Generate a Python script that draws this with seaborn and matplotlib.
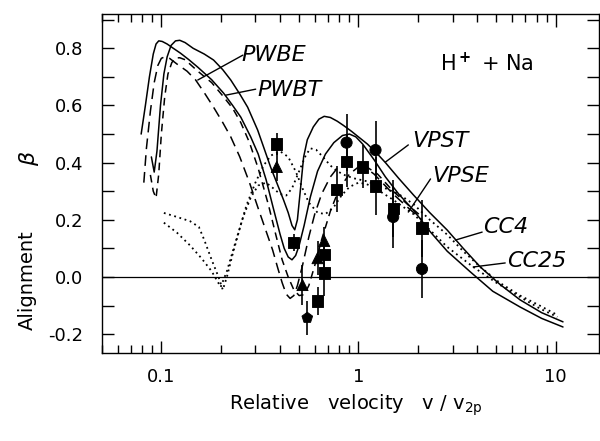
import numpy as np
import pandas as pd
import matplotlib
matplotlib.use("Agg")
import matplotlib.pyplot as plt
import seaborn as sns
from matplotlib.ticker import FixedLocator, NullFormatter, FixedFormatter

# ---- curves ----
solid_outer_x = [0.089, 0.092, 0.095, 0.099, 0.103, 0.107, 0.112, 0.118, 0.124, 0.132, 0.145, 0.165,
                 0.184, 0.205, 0.225, 0.25, 0.274, 0.308, 0.33, 0.358, 0.39, 0.417, 0.44, 0.46,
                 0.475, 0.49, 0.51, 0.527, 0.55, 0.59, 0.63, 0.67, 0.72, 0.78, 0.84, 0.92, 1.0,
                 1.11, 1.23, 1.37, 1.6, 1.9, 2.3, 2.82, 3.4, 4.15, 5.2, 6.6, 8.5, 10.9]
solid_outer_y = [0.42, 0.367, 0.44, 0.60, 0.71, 0.77, 0.81, 0.826, 0.828, 0.82, 0.80, 0.78,
                 0.759, 0.725, 0.689, 0.64, 0.594, 0.514, 0.455, 0.385, 0.32, 0.269, 0.225, 0.18,
                 0.165, 0.20, 0.32, 0.42, 0.48, 0.525, 0.552, 0.562, 0.558, 0.545, 0.53, 0.51, 0.49,
                 0.465, 0.435, 0.40, 0.345, 0.287, 0.225, 0.164, 0.10, 0.035, -0.025, -0.08, -0.125, -0.157]

solid_inner_x = [0.079, 0.083, 0.087, 0.091, 0.094, 0.097, 0.101, 0.107, 0.115, 0.125, 0.138, 0.153,
                 0.18, 0.207, 0.23, 0.253, 0.284, 0.31, 0.34, 0.37, 0.40, 0.42, 0.44, 0.46, 0.48,
                 0.50, 0.53, 0.57, 0.62, 0.68, 0.75, 0.83, 0.90, 0.97, 1.05, 1.2, 1.37, 1.6, 1.9,
                 2.3, 2.82, 3.69, 4.8, 6.6, 8.5, 10.9]
solid_inner_y = [0.50, 0.60, 0.70, 0.78, 0.815, 0.826, 0.824, 0.815, 0.80, 0.783, 0.76, 0.734,
                 0.69, 0.643, 0.60, 0.559, 0.49, 0.43, 0.34, 0.24, 0.15, 0.10, 0.07, 0.06, 0.075,
                 0.11, 0.18, 0.28, 0.37, 0.43, 0.47, 0.495, 0.50, 0.49, 0.465, 0.41, 0.35, 0.29, 0.234,
                 0.16, 0.09, 0.018, -0.05, -0.105, -0.145, -0.175]

dash_a_x = [0.0815, 0.084, 0.088, 0.092, 0.096, 0.100, 0.104, 0.110, 0.12, 0.135, 0.149, 0.165,
            0.184, 0.205, 0.225, 0.25, 0.28, 0.31, 0.34, 0.367, 0.39, 0.41, 0.43, 0.45, 0.47,
            0.49, 0.52, 0.56, 0.60, 0.65, 0.72, 0.8, 0.9, 1.0, 1.2, 1.5, 1.8, 2.1]
dash_a_y = [0.33, 0.45, 0.58, 0.68, 0.74, 0.765, 0.77, 0.765, 0.745, 0.72, 0.69, 0.645,
            0.594, 0.54, 0.49, 0.42, 0.33, 0.24, 0.16, 0.094, 0.03, -0.02, -0.06, -0.075, -0.065,
            -0.03, 0.04, 0.14, 0.22, 0.29, 0.35, 0.39, 0.405, 0.40, 0.36, 0.29, 0.24, 0.20]

dash_b_x = [0.088, 0.091, 0.094, 0.097, 0.100, 0.104, 0.108, 0.113, 0.118, 0.124, 0.132, 0.153,
            0.18, 0.207, 0.23, 0.253, 0.28, 0.31, 0.35, 0.38, 0.41, 0.44, 0.47, 0.50, 0.53,
            0.56, 0.60, 0.65, 0.72, 0.8, 0.9, 1.0, 1.1, 1.25, 1.5, 1.8, 2.1]
dash_b_y = [0.357, 0.30, 0.276, 0.36, 0.50, 0.63, 0.71, 0.75, 0.766, 0.767, 0.76, 0.72,
            0.68, 0.63, 0.59, 0.54, 0.47, 0.38, 0.25, 0.15, 0.06, 0.0, -0.045, -0.065, -0.062,
            -0.03, 0.04, 0.13, 0.23, 0.31, 0.36, 0.385, 0.385, 0.36, 0.30, 0.25, 0.21]

dot_a_x = [0.103, 0.12, 0.14, 0.155, 0.165, 0.18, 0.195, 0.205, 0.215, 0.23, 0.25, 0.27, 0.30,
           0.33, 0.36, 0.40, 0.44, 0.48, 0.52, 0.56, 0.62, 0.68, 0.75, 0.82, 0.90, 1.0, 1.1,
           1.25, 1.5, 1.9, 2.3, 2.82, 3.82, 5.0, 6.6, 8.3, 10.2]
dot_a_y = [0.224, 0.21, 0.195, 0.175, 0.13, 0.06, 0.0, -0.045, 0.0, 0.08, 0.17, 0.25, 0.33,
           0.39, 0.425, 0.44, 0.42, 0.37, 0.31, 0.26, 0.225, 0.22, 0.245, 0.285, 0.315, 0.33, 0.325,
           0.305, 0.27, 0.22, 0.165, 0.105, 0.035, -0.02, -0.07, -0.11, -0.14]

dot_b_x = [0.103, 0.12, 0.14, 0.16, 0.18, 0.20, 0.215, 0.235, 0.26, 0.285, 0.31, 0.34, 0.37,
           0.40, 0.43, 0.46, 0.50, 0.54, 0.57, 0.61, 0.66, 0.72, 0.78, 0.86, 0.95, 1.1, 1.37,
           1.6, 1.9, 2.3, 2.82, 3.4, 4.15, 5.2, 6.6, 8.3, 10.2]
dot_b_y = [0.19, 0.155, 0.11, 0.065, 0.02, -0.035, 0.02, 0.11, 0.21, 0.28, 0.32, 0.33, 0.31,
           0.29, 0.285, 0.31, 0.37, 0.425, 0.45, 0.445, 0.42, 0.39, 0.37, 0.355, 0.345, 0.335, 0.31,
           0.29, 0.255, 0.20, 0.148, 0.09, 0.035, -0.02, -0.065, -0.10, -0.133]

# ---- measured points ----
pt_v = [0.385, 0.385, 0.47, 0.52, 0.55, 0.62, 0.62, 0.67, 0.67, 0.67, 0.774, 0.87, 0.87,
        1.05, 1.22, 1.22, 1.5, 1.5, 2.1, 2.1]
pt_beta = [0.465, 0.385, 0.12, -0.028, -0.143, -0.084, 0.066, 0.126, 0.08, 0.014, 0.307, 0.47, 0.405,
           0.385, 0.444, 0.318, 0.24, 0.21, 0.171, 0.028]
pt_err = [0.04, 0.05, 0.03, 0.07, 0.06, 0.05, 0.06, 0.05, 0.06, 0.08, 0.08, 0.10, 0.09,
          0.075, 0.10, 0.10, 0.10, 0.11, 0.10, 0.10]
pt_kind = ["sq", "tri", "sq", "tri", "pent", "sq", "tri", "tri", "sq", "sq", "sq", "circ", "sq",
           "sq", "circ", "sq", "sq", "circ", "sq", "circ"]

x_major = [0.1, 1, 10]
x_major_labels = ["0.1", "1", "10"]
y_major = [-0.2, 0.0, 0.2, 0.4, 0.6, 0.8]
y_major_labels = ["-0.2", "0.0", "0.2", "0.4", "0.6", "0.8"]

sns.set_style("ticks")
plt.rcParams['font.family'] = ['DejaVu Sans']
for k in ["text.color", "axes.labelcolor", "xtick.color", "ytick.color", "axes.edgecolor"]:
    plt.rcParams[k] = "black"

fig = plt.figure(figsize=(6, 4.41), dpi=100)
ax = fig.add_axes([102 / 600, 1 - 353 / 441, 497 / 600, 339 / 441])

lw = 1.1
sns.lineplot(x=solid_outer_x, y=solid_outer_y, ax=ax, color="k", lw=lw, sort=False, estimator=None)
sns.lineplot(x=solid_inner_x, y=solid_inner_y, ax=ax, color="k", lw=lw, sort=False, estimator=None)
sns.lineplot(x=dash_a_x, y=dash_a_y, ax=ax, color="k", lw=lw, sort=False, estimator=None,
             linestyle=(0, (7, 4)))
sns.lineplot(x=dash_b_x, y=dash_b_y, ax=ax, color="k", lw=lw, sort=False, estimator=None,
             linestyle=(0, (5, 3.5)))
sns.lineplot(x=dot_a_x, y=dot_a_y, ax=ax, color="k", lw=1.3, sort=False, estimator=None,
             linestyle=(0, (1, 2)))
sns.lineplot(x=dot_b_x, y=dot_b_y, ax=ax, color="k", lw=1.3, sort=False, estimator=None,
             linestyle=(0, (1, 2)))

pts = pd.DataFrame({"v": pt_v, "beta": pt_beta, "err": pt_err, "kind": pt_kind})
ax.errorbar(pts.v, pts.beta, yerr=pts.err, fmt="none", ecolor="k", elinewidth=1.2, capsize=0)
sns.scatterplot(data=pts, x="v", y="beta", style="kind", ax=ax, color="k", s=65,
                markers={"sq": "s", "tri": "^", "circ": "o", "pent": "p"}, legend=False,
                edgecolor="k", zorder=5)

ax.axhline(0, color="k", lw=0.9)

ax.set_xscale("log")
ax.set_xlim(0.05, 16.6)
ax.set_ylim(-0.266, 0.92)

ax.xaxis.set_major_locator(FixedLocator(x_major))
ax.xaxis.set_major_formatter(FixedFormatter(x_major_labels))
minors = [m * d for d in [0.01, 0.1, 1, 10] for m in range(2, 10)]
ax.xaxis.set_minor_locator(FixedLocator(minors))
ax.xaxis.set_minor_formatter(NullFormatter())
ax.yaxis.set_major_locator(FixedLocator(y_major))
ax.yaxis.set_major_formatter(FixedFormatter(y_major_labels))
ax.yaxis.set_minor_locator(FixedLocator([-0.1, 0.1, 0.3, 0.5, 0.7, 0.9]))

ax.tick_params(which="both", direction="in", top=True, right=True, color="k", width=1)
ax.tick_params(axis="x", which="major", length=9, pad=11, labelsize=13)
ax.tick_params(axis="x", which="minor", length=6)
ax.tick_params(axis="y", which="both", length=8.5, pad=13.5, labelsize=13)
for s in ax.spines.values():
    s.set_color("k")
    s.set_linewidth(1)
ax.set_xlabel("")
ax.set_ylabel("")

# labels of the curves
lab = dict(fontsize=16, style="italic", ha="center", va="center")
ax.text(0.371, 0.776, "PWBE", **lab)
ax.text(0.447, 0.654, "PWBT", **lab)
ax.text(2.60, 0.476, "VPST", **lab)
ax.text(3.28, 0.353, "VPSE", **lab)
ax.text(5.55, 0.175, "CC4", **lab)
ax.text(8.06, 0.056, "CC25", **lab)
ax.text(4.5, 0.748, "H$^{\\bf +}$ + Na", fontsize=15, ha="center", va="center")

leaders = [((0.259, 0.776), (0.153, 0.689)), ((0.301, 0.657), (0.212, 0.636)),
           ((1.79, 0.462), (1.37, 0.402)), ((2.32, 0.343), (1.79, 0.227)),
           ((4.24, 0.157), (3.10, 0.129)), ((5.55, 0.049), (3.82, 0.035))]
for (x0, y0), (x1, y1) in leaders:
    ax.plot([x0, x1], [y0, y1], color="k", lw=1)

fig.text(356 / 600, 1 - 410 / 441, "Relative   velocity   v / v$_{\\rm 2p}$", fontsize=14,
         ha="center", va="baseline")
fig.text(27 / 600, 1 - 280 / 441, "Alignment", fontsize=14, rotation=90, ha="center", va="center")
fig.text(29 / 600, 1 - 158 / 441, "$\\beta$", fontsize=16, rotation=90, ha="center", va="center")

fig.savefig("out.png", dpi=100)
